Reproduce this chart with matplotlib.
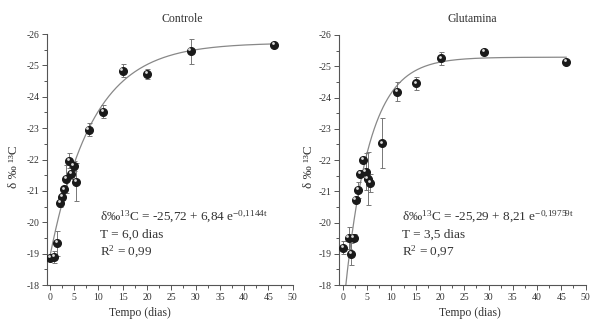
import numpy as np
import matplotlib
matplotlib.use('Agg')
import matplotlib.pyplot as plt
from matplotlib.ticker import MultipleLocator

plt.rcParams['font.family'] = ['Liberation Serif', 'DejaVu Serif']
plt.rcParams['mathtext.fontset'] = 'custom'
plt.rcParams['mathtext.rm'] = 'Liberation Serif'
plt.rcParams['mathtext.it'] = 'Liberation Serif:italic'

# Controle
t_ctrl = [0, 0.9, 1.5, 2.1, 2.5, 3.0, 3.4, 4.0, 4.4, 4.9, 5.4, 8.0, 11.0, 15.0, 20.0, 29.0, 46.2]
d_ctrl = [-18.87, -18.9, -19.33, -20.63, -20.82, -21.05, -21.38, -21.97, -21.53, -21.8, -21.29,
          -22.95, -23.53, -24.83, -24.73, -25.45, -25.65]
e_ctrl = [0.1, 0.2, 0.4, 0.15, 0.1, 0.1, 0.45, 0.25, 0.15, 0.15, 0.6, 0.2, 0.2, 0.2, 0.15, 0.4, 0.05]
fit_ctrl = (-25.72, 6.84, 0.1144)

# Glutamina
t_glu = [0, 1.2, 1.7, 2.2, 2.6, 3.1, 3.6, 4.1, 4.7, 5.1, 5.6, 8.1, 11.1, 15.1, 20.3, 29.05, 46.0]
d_glu = [-19.2, -19.52, -18.99, -19.52, -20.72, -21.04, -21.57, -22.0, -21.63, -21.41, -21.27,
         -22.53, -24.19, -24.45, -25.25, -25.45, -25.13]
e_glu = [0.2, 0.35, 0.35, 0.1, 0.1, 0.25, 0.1, 0.1, 0.6, 0.85, 0.3, 0.8, 0.3, 0.2, 0.2, 0.05, 0.05]
fit_glu = (-25.29, 8.21, 0.19759)

titles = ['Controle', 'Glutamina']
eqs = [r'δ‰$^{13}$C = -25,72 + 6,84 e$^{\mathrm{-0{,}1144t}}$',
       r'δ‰$^{13}$C = -25,29 + 8,21 e$^{\mathrm{-0{,}19759t}}$']
t_txt = ['T = 6,0 dias', 'T = 3,5 dias']
r_txt = [r'R$^{2}$ = 0,99', r'R$^{2}$ = 0,97']

txt = '#333333'
fig = plt.figure(figsize=(6, 3.24), dpi=100)
ax1 = fig.add_axes([0.078, 0.12, 0.41, 0.775])
ax2 = fig.add_axes([0.565, 0.12, 0.411, 0.772])

panels = [(ax1, t_ctrl, d_ctrl, e_ctrl, fit_ctrl, -0.6, 0.167),
          (ax2, t_glu, d_glu, e_glu, fit_glu, -0.8, 0.67)]

for i, (ax, t, d, e, fit, xmin, tx) in enumerate(panels):
    a, b, k = fit
    tt = np.linspace(0, 46, 300)
    ax.plot(tt, a + b * np.exp(-k * tt), color='#888888', lw=0.9, zorder=2)
    ax.errorbar(t, d, yerr=e, fmt='none', ecolor='#777777', elinewidth=0.7,
                capsize=1.8, capthick=0.7, zorder=3)
    ax.plot(t, d, 'o', ms=5.5, mfc='#1a1a1a', mec='#1a1a1a', zorder=4)
    ax.plot(np.array(t) - 0.25, np.array(d) - 0.06, 'o', ms=2, mfc='#dddddd',
            mec='none', zorder=5)
    ax.set_xlim(xmin, 50)
    ax.set_ylim(-18, -26)
    ax.xaxis.set_major_locator(MultipleLocator(5))
    ax.xaxis.set_minor_locator(MultipleLocator(2.5))
    ax.yaxis.set_major_locator(MultipleLocator(1))
    ax.yaxis.set_minor_locator(MultipleLocator(0.5))
    for s in ['top', 'right']:
        ax.spines[s].set_visible(False)
    for s in ['left', 'bottom']:
        ax.spines[s].set_color('#555555')
        ax.spines[s].set_linewidth(0.8)
    ax.tick_params(which='both', direction='out', colors='#555555', labelcolor=txt,
                   labelsize=7, width=0.7, pad=2)
    ax.tick_params(which='major', length=3.5)
    ax.tick_params(which='minor', length=2)
    ax.set_yticklabels(['%d' % v for v in ax.get_yticks()])
    fig.text(tx, 0.33, eqs[i], va='center', fontsize=9.5, color=txt)
    fig.text(tx, 0.277, t_txt[i], va='center', fontsize=9.5, color=txt)
    fig.text(tx, 0.222, r_txt[i], va='center', fontsize=9.5, color=txt)

fig.text(0.303, 0.94, 'Controle', ha='center', va='center', fontsize=8.5, color=txt)
fig.text(0.788, 0.94, 'Glutamina', ha='center', va='center', fontsize=8.5, color=txt)
fig.text(0.233, 0.034, 'Tempo (dias)', ha='center', va='center', fontsize=8.5, color=txt)
fig.text(0.783, 0.034, 'Tempo (dias)', ha='center', va='center', fontsize=8.5, color=txt)
fig.text(0.023, 0.485, 'δ ‰ ¹³C', ha='center', va='center', rotation=90, fontsize=9.5, color=txt)
fig.text(0.515, 0.485, 'δ ‰ ¹³C', ha='center', va='center', rotation=90, fontsize=9.5, color=txt)

fig.savefig('out.png', dpi=100)
